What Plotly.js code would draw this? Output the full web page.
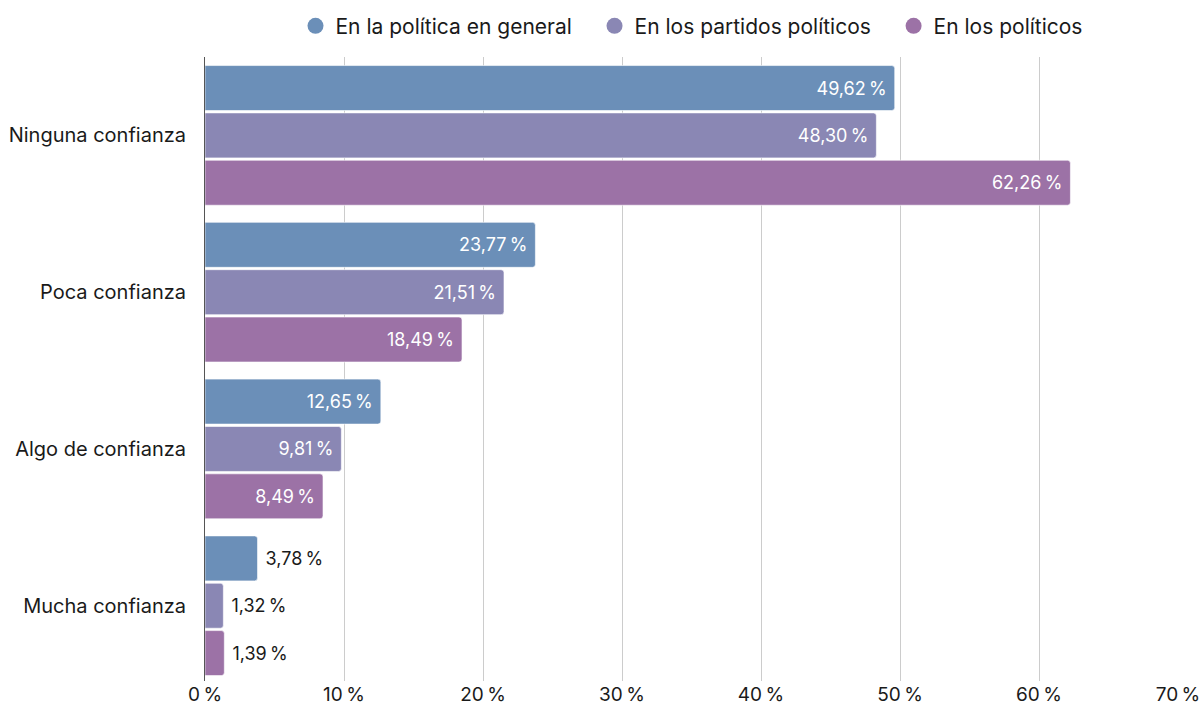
<!DOCTYPE html>
<html><head><meta charset="utf-8">
<script src="https://cdn.plot.ly/plotly-3.0.1.min.js"></script>
<style>html,body{margin:0;padding:0;background:#fff}#chart{width:1204px;height:707px}</style>
</head><body><div id="chart"></div>
<script>
const categories = ["Ninguna confianza","Poca confianza","Algo de confianza","Mucha confianza"];
const seriesNames = ["En la política en general","En los partidos políticos","En los políticos"];
const politicaGeneral = [49.62, 23.77, 12.65, 3.78];
const partidosPoliticos = [48.30, 21.51, 9.81, 1.32];
const politicos = [62.26, 18.49, 8.49, 1.39];
const colors = ["#6b8fb8","#8a87b4","#9c72a6"];
const tickVals = [0,10,20,30,40,50,60,70];
const tickText = tickVals.map(v => v + "\u2009%");

function fmt(v){ return v.toFixed(2).replace(".", ",") + "\u2009%"; }
const series = [politicaGeneral, partidosPoliticos, politicos];
const font = "Inter, 'Open Sans', sans-serif";
const traces = series.map((vals, i) => ({
  type: "bar", orientation: "h", name: seriesNames[i],
  x: vals, y: categories, showlegend: false,
  marker: {color: colors[i], cornerradius: 3, line: {color: "rgba(255,255,255,0.6)", width: 1}},
  text: vals.map(v => v > 5 ? fmt(v) + "\u00a0" : "\u00a0" + fmt(v)),
  textposition: vals.map(v => v > 5 ? "inside" : "outside"),
  insidetextanchor: "end",
  insidetextfont: {color: "#ffffff", size: 18, family: font},
  outsidetextfont: {color: "#1a1a1a", size: 18, family: font},
  cliponaxis: false, hoverinfo: "x+name"
}));
seriesNames.forEach((n, i) => traces.push({
  type: "scatter", mode: "markers", name: n + (i < 2 ? "\u00a0\u00a0\u00a0" : ""), x: [null], y: [null],
  marker: {color: colors[i], size: 20, symbol: "circle"}, showlegend: true, hoverinfo: "skip"
}));

Plotly.newPlot("chart", traces, {
  width: 1204, height: 707,
  margin: {l: 205, r: 26, t: 57, b: 26},
  barmode: "group", bargap: 0.094, bargroupgap: 0.05,
  font: {family: font, size: 18, color: "#1a1a1a"},
  paper_bgcolor: "#fff", plot_bgcolor: "#fff",
  showlegend: true,
  legend: {orientation: "h", x: 0.5, xanchor: "center", y: 0.992, yanchor: "top", yref: "container",
    font: {size: 21, family: font, color: "#1a1a1a"}, itemsizing: "trace", traceorder: "normal", itemwidth: 30},
  xaxis: {range: [0, 70], tickvals: tickVals, ticktext: tickText, showgrid: true, gridcolor: "#cccccc", gridwidth: 1,
    zeroline: false, showline: false, ticks: "", tickfont: {size: 19}, fixedrange: true},
  yaxis: {type: "category", range: [3.48, -0.5], showgrid: false, zeroline: false, showline: true,
    linecolor: "#555", linewidth: 1, ticks: "", ticklabelstandoff: 14, tickfont: {size: 20}, fixedrange: true}
}, {displayModeBar: false, staticPlot: true});
</script></body></html>
